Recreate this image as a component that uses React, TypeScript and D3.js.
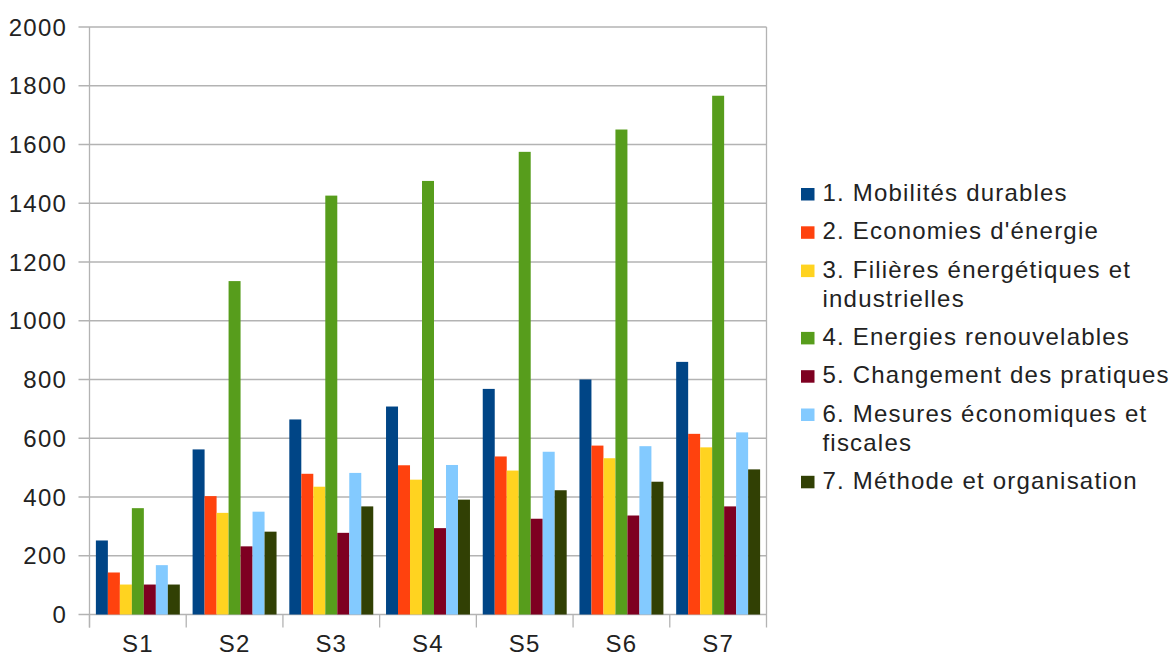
import React from "react";
import * as d3 from "d3";

const categories = ["S1", "S2", "S3", "S4", "S5", "S6", "S7"];
const seriesNames = [
  "1. Mobilités durables",
  "2. Economies d'énergie",
  "3. Filières énergétiques et industrielles",
  "4. Energies renouvelables",
  "5. Changement des pratiques",
  "6. Mesures économiques et fiscales",
  "7. Méthode et organisation",
];
const legendLines = [
  ["1. Mobilités durables"],
  ["2. Economies d'énergie"],
  ["3. Filières énergétiques et", "industrielles"],
  ["4. Energies renouvelables"],
  ["5. Changement des pratiques"],
  ["6. Mesures économiques et", "fiscales"],
  ["7. Méthode et organisation"],
];
const mobilites = [252, 562, 664, 708, 768, 800, 860];
const economies = [143, 403, 479, 508, 538, 575, 615];
const filieres = [102, 346, 435, 459, 490, 532, 569];
const renouvelables = [362, 1135, 1426, 1476, 1575, 1651, 1766];
const changement = [102, 232, 278, 294, 326, 337, 368];
const mesures = [168, 350, 482, 509, 554, 573, 620];
const methode = [102, 282, 368, 391, 423, 452, 494];
const seriesValues = [mobilites, economies, filieres, renouvelables, changement, mesures, methode];
const colors = ["#004586", "#ff420e", "#ffd320", "#579d1c", "#7e0021", "#83caff", "#314004"];
const yTicks = [0, 200, 400, 600, 800, 1000, 1200, 1400, 1600, 1800, 2000];

const W = 1174;
const H = 659;
const left = 89.5;
const right = 766.5;
const top = 27;
const bottom = 614.5;
const font = "'Liberation Sans', Arial, sans-serif";
const textColor = "#222";
const gridColor = "#b3b3b3";

export default function App() {
  const x0 = d3.scaleBand<string>().domain(categories).range([left, right]).padding(0);
  const bw = x0.bandwidth();
  const inset = bw * 0.066;
  const x1 = d3
    .scaleBand<number>()
    .domain(d3.range(seriesNames.length))
    .range([inset, bw - inset])
    .padding(0);
  const y = d3.scaleLinear().domain([0, 2000]).range([bottom, top]);

  const legendX = 801;
  let baseline = 201;
  const legendItems: { lines: string[]; base: number; color: string }[] = [];
  legendLines.forEach((lines, i) => {
    legendItems.push({ lines, base: baseline, color: colors[i] });
    baseline += lines.length * 29 + 9.3;
  });

  return (
    <svg
      width={W}
      height={H}
      style={{ position: "absolute", left: 0, top: 0, background: "#fff" }}
      fontFamily={font}
    >
      <rect x={0} y={0} width={W} height={H} fill="#fff" />
      {yTicks.map((t) => (
        <g key={t}>
          <line x1={left - 11} x2={right} y1={y(t)} y2={y(t)} stroke={gridColor} strokeWidth={1.3} />
          <text
            x={67}
            y={y(t)}
            dy="0.36em"
            textAnchor="end"
            fontSize={24}
            letterSpacing={1.2}
            fill={textColor}
          >
            {t}
          </text>
        </g>
      ))}
      <line x1={left} x2={left} y1={top} y2={bottom + 13} stroke={gridColor} strokeWidth={1.3} />
      <line x1={right} x2={right} y1={top} y2={bottom + 13} stroke={gridColor} strokeWidth={1.3} />
      {categories.map((c) => (
        <line
          key={"t" + c}
          x1={x0(c)!}
          x2={x0(c)!}
          y1={bottom}
          y2={bottom + 13}
          stroke={gridColor}
          strokeWidth={1.3}
        />
      ))}
      {categories.map((c, ci) => (
        <g key={c} transform={`translate(${x0(c)},0)`}>
          {seriesValues.map((vals, si) => (
            <rect
              key={si}
              x={x1(si)}
              y={y(vals[ci])}
              width={x1.bandwidth()}
              height={y(0) - y(vals[ci])}
              fill={colors[si]}
            />
          ))}
        </g>
      ))}
      {categories.map((c) => (
        <text
          key={"l" + c}
          x={x0(c)! + bw / 2}
          y={652}
          textAnchor="middle"
          fontSize={24}
          letterSpacing={1.2}
          fill={textColor}
        >
          {c}
        </text>
      ))}
      {legendItems.map((it, i) => (
        <g key={"lg" + i}>
          <rect x={legendX} y={it.base - 13} width={13.5} height={12.5} fill={it.color} />
          {it.lines.map((ln, li) => (
            <text
              key={li}
              x={legendX + 21.5}
              y={it.base + li * 29}
              fontSize={24}
              letterSpacing={1.2}
              fill={textColor}
            >
              {ln}
            </text>
          ))}
        </g>
      ))}
    </svg>
  );
}
